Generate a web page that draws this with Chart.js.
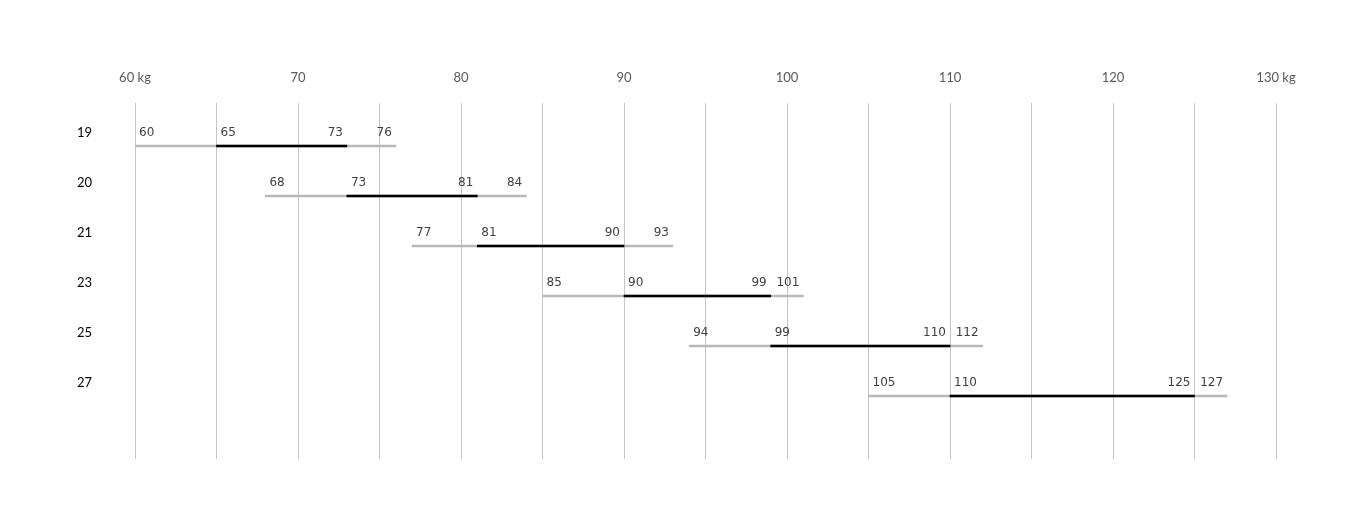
<!DOCTYPE html>
<html>
<head>
<meta charset="utf-8">
<script src="https://cdn.jsdelivr.net/npm/chart.js@4"></script>
<style>
  html, body { margin: 0; padding: 0; background: #fff; }
  #wrap { width: 1364px; height: 520px; }
</style>
</head>
<body>
<div id="wrap"><canvas id="chart" width="1364" height="520"></canvas></div>
<script>
// rows top to bottom
const rowLabels = ["19", "20", "21", "23", "25", "27"];
const outerMin = [60, 68, 77, 85, 94, 105];
const innerMin = [65, 73, 81, 90, 99, 110];
const innerMax = [73, 81, 90, 99, 110, 125];
const outerMax = [76, 84, 93, 101, 112, 127];

const xMin = 60;
const xMax = 130;
const xUnit = "kg";

const outerData = rowLabels.map((_, i) => ({ x: [outerMin[i], outerMax[i]], y: i }));
const innerData = rowLabels.map((_, i) => ({ x: [innerMin[i], innerMax[i]], y: i }));

const rangeLabels = {
  id: "rangeLabels",
  afterDatasetsDraw(chart) {
    const { ctx, scales } = chart;
    ctx.save();
    ctx.font = "12px 'DejaVu Sans', Verdana, sans-serif";
    ctx.fillStyle = "#404040";
    ctx.textBaseline = "middle";
    rowLabels.forEach((_, i) => {
      const y = scales.y.getPixelForValue(i) - 13;
      const put = (value, align, dx) => {
        ctx.textAlign = align;
        ctx.fillText(String(value), scales.x.getPixelForValue(value) + dx, y);
      };
      put(outerMin[i], "left", 4);
      put(innerMin[i], "left", 4);
      put(innerMax[i], "right", -4);
      put(outerMax[i], "right", -4);
    });
    ctx.restore();
  },
};

new Chart(document.getElementById("chart"), {
  type: "bar",
  data: {
    datasets: [
      { label: "range", data: outerData, backgroundColor: "#b8b8b8", barThickness: 2, grouped: false, order: 2 },
      { label: "typical", data: innerData, backgroundColor: "#000000", barThickness: 2, grouped: false, order: 1 },
    ],
  },
  options: {
    indexAxis: "y",
    responsive: false,
    animation: false,
    layout: { padding: { top: 0, left: 0, right: 88, bottom: 61 } },
    plugins: { legend: { display: false }, tooltip: { enabled: false } },
    scales: {
      x: {
        type: "linear",
        position: "top",
        min: xMin,
        max: xMax,
        border: { display: false },
        grid: { color: "#c4c4c4", lineWidth: 1, drawTicks: false },
        afterFit: (scale) => { scale.height = 103; },
        ticks: {
          stepSize: 5,
          autoSkip: false,
          maxRotation: 0,
          padding: 17,
          color: "#595959",
          font: { family: "Lato, 'Open Sans', sans-serif", size: 13 },
          callback: (v) => {
            if (v % 10 !== 0) return "";
            return v === xMin || v === xMax ? `${v} ${xUnit}` : String(v);
          },
        },
      },
      y: {
        type: "linear",
        reverse: true,
        offset: false,
        min: -0.86,
        max: 6.26,
        border: { display: false },
        grid: { display: false, drawTicks: false },
        afterFit: (scale) => { scale.width = 135; },
        ticks: {
          stepSize: 1,
          includeBounds: false,
          autoSkip: false,
          padding: 43,
          labelOffset: -13,
          color: "#000000",
          font: { family: "Lato, 'Open Sans', sans-serif", size: 13 },
          callback: (v) => (Number.isInteger(v) && rowLabels[v] !== undefined ? rowLabels[v] : ""),
        },
      },
    },
  },
  plugins: [rangeLabels],
});
</script>
</body>
</html>
